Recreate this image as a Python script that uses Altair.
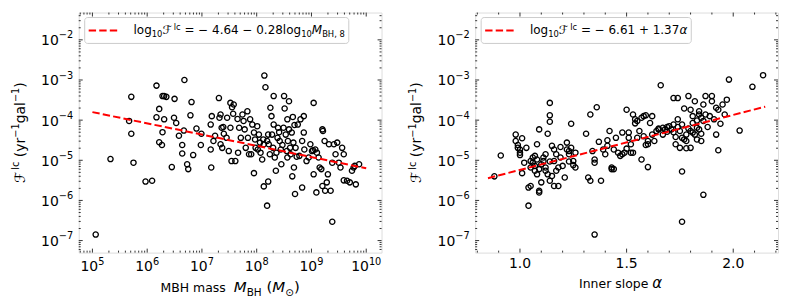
import altair as alt
import pandas as pd

# ---------------- data ----------------
# left panel: log10 MBH mass [Msun], log10 F_lc [yr^-1 gal^-1]
mass_log = [5.06,5.33,5.67,5.71,5.71,5.75,5.97,6.09,6.17,6.17,6.22,6.22,6.27,6.28,6.31,6.35,6.28,6.31,6.45,6.49,
            6.50,6.53,6.58,6.64,6.64,6.67,6.68,6.73,6.75,6.79,6.81,6.84,6.90,6.98,6.99,7.17,7.16,7.16,7.18,7.21,
            7.24,7.31,7.32,7.34,7.34,7.36,7.37,7.39,7.40,7.45,7.52,7.52,7.54,7.55,7.57,7.58,7.61,7.46,7.49,7.65,
            7.66,7.68,7.71,7.74,7.76,7.78,7.80,7.83,7.84,7.86,7.88,7.90,7.92,7.95,7.95,7.97,7.98,8.01,8.02,8.04,
            8.06,8.07,8.10,8.12,8.13,8.14,8.16,8.19,8.19,8.21,8.22,8.24,8.25,8.27,8.28,8.30,8.31,8.33,8.35,8.36,
            8.38,8.39,8.41,8.42,8.44,8.45,8.47,8.49,8.50,8.51,8.53,8.55,8.56,8.57,8.59,8.61,8.62,8.64,8.66,8.67,
            8.68,8.69,8.71,8.73,8.75,8.78,8.80,8.83,8.86,8.87,8.91,8.95,8.98,9.01,9.04,9.07,9.10,9.13,9.15,9.18,
            9.21,9.24,9.28,9.32,9.35,9.38,9.41,9.44,9.47,9.50,9.53,9.56,9.59,9.65,9.70,9.74,9.77,9.79,9.81,9.87,
            8.70,8.83,9.04,9.20,9.38,8.13,8.31,8.56,8.59,8.86,9.20,9.30,9.09,9.25,8.65,8.21,9.03,9.59]
mass_flc_log = [-6.85,-4.97,-4.02,-3.42,-4.34,-5.06,-5.53,-5.51,-3.14,-3.93,-3.72,-4.55,-4.62,-3.40,-3.40,-3.42,-4.30,-3.98,-5.17,-3.94,
                -3.47,-4.07,-4.39,-4.62,-4.83,-4.26,-3.00,-5.10,-5.22,-3.88,-3.55,-4.87,-4.21,-4.62,-4.34,-5.18,-4.11,-4.73,-3.90,-4.52,
                -4.39,-3.45,-3.94,-3.86,-4.60,-4.19,-4.69,-4.17,-4.34,-4.44,-3.57,-4.19,-5.02,-3.68,-3.84,-3.61,-5.02,-3.94,-4.77,-3.97,
                -4.81,-4.19,-4.44,-3.86,-4.02,-4.23,-4.69,-3.78,-4.44,-4.85,-3.98,-4.85,-4.11,-4.31,-5.32,-4.48,-4.69,-4.15,-4.73,-4.36,
                -4.56,-4.81,-4.98,-4.48,-4.60,-2.89,-3.18,-6.13,-4.52,-4.36,-4.60,-4.85,-3.69,-3.90,-4.36,-4.69,-4.11,-4.93,-5.26,-4.81,
                -4.44,-4.19,-4.30,-4.52,-4.73,-5.10,-4.62,-4.19,-3.40,-3.71,-4.36,-4.77,-4.93,-4.52,-4.23,-4.69,-4.85,-4.31,-3.92,-4.56,
                -5.18,-4.12,-4.69,-4.91,-4.11,-4.89,-3.98,-4.52,-4.31,-4.73,-5.02,-4.93,-4.60,-4.77,-3.57,-4.73,-4.81,-4.93,-5.18,-5.22,
                -4.27,-4.52,-5.55,-4.60,-5.76,-5.06,-4.60,-4.85,-4.56,-5.06,-5.18,-4.69,-4.85,-5.51,-5.55,-5.26,-5.18,-5.14,-5.60,-5.10,
                -5.84,-5.68,-5.35,-5.64,-6.53,-5.65,-3.40,-3.98,-3.53,-3.90,-4.23,-5.35,-5.80,-5.76,-5.40,-5.53,-4.75,-5.50]

# right panel: inner slope alpha, log10 F_lc
alpha_vals = [0.88,0.91,0.98,0.98,0.99,0.99,1.00,1.00,1.00,1.01,1.01,1.02,1.03,1.04,1.04,1.05,1.05,1.05,1.06,1.06,
              1.07,1.07,1.07,1.08,1.08,1.08,1.09,1.09,1.09,1.09,1.10,1.10,1.11,1.11,1.12,1.12,1.12,1.13,1.13,1.14,
              1.14,1.14,1.14,1.14,1.15,1.15,1.16,1.16,1.16,1.17,1.17,1.18,1.18,1.19,1.19,1.20,1.21,1.22,1.22,1.23,
              1.23,1.23,1.24,1.24,1.25,1.25,1.26,1.26,1.31,1.32,1.33,1.33,1.34,1.35,1.35,1.36,1.37,1.38,1.39,1.40,
              1.41,1.41,1.42,1.43,1.43,1.44,1.44,1.45,1.46,1.47,1.48,1.48,1.49,1.50,1.50,1.51,1.51,1.52,1.52,1.53,
              1.53,1.54,1.54,1.55,1.55,1.56,1.57,1.57,1.58,1.58,1.59,1.59,1.60,1.60,1.60,1.61,1.62,1.62,1.63,1.64,
              1.65,1.65,1.66,1.67,1.67,1.68,1.69,1.69,1.70,1.71,1.72,1.72,1.72,1.73,1.73,1.74,1.74,1.74,1.75,1.75,
              1.76,1.76,1.76,1.77,1.77,1.78,1.78,1.78,1.79,1.79,1.80,1.80,1.80,1.81,1.81,1.81,1.82,1.82,1.83,1.83,
              1.83,1.84,1.84,1.84,1.85,1.85,1.85,1.86,1.86,1.87,1.87,1.88,1.89,1.90,1.90,1.91,1.92,1.92,1.93,1.93,
              1.94,1.95,1.96,1.97,1.98,2.03,2.09,2.14,1.76,1.86,1.35]
alpha_flc_log = [-5.40,-4.88,-4.36,-4.52,-4.62,-4.69,-4.81,-4.73,-4.87,-4.45,-5.32,-5.06,-4.69,-6.13,-5.68,-5.02,-5.64,-5.18,-4.93,-5.06,
                 -5.26,-5.14,-4.89,-4.60,-5.35,-4.98,-5.76,-5.80,-4.23,-5.22,-5.10,-5.55,-5.02,-4.93,-5.26,-5.18,-4.85,-5.35,-4.34,-5.51,
                 -3.57,-3.88,-4.04,-5.03,-4.64,-5.39,-5.02,-4.73,-5.64,-4.85,-5.26,-5.18,-5.64,-4.67,-4.93,-5.14,-5.43,-4.56,-4.73,-4.85,
                 -5.03,-4.77,-4.69,-4.09,-5.12,-5.02,-4.81,-5.18,-4.34,-5.43,-3.86,-5.51,-4.77,-5.06,-4.98,-3.68,-4.54,-5.51,-4.73,-4.85,
                 -4.50,-4.64,-4.27,-5.18,-5.22,-5.22,-4.73,-4.44,-4.81,-4.89,-4.31,-4.85,-4.81,-3.74,-4.71,-4.44,-4.31,-4.81,-4.60,-3.86,
                 -4.81,-3.98,-4.08,-4.02,-4.44,-4.27,-3.94,-4.98,-4.40,-3.90,-3.88,-4.62,-4.60,-4.52,-5.17,-4.07,-4.36,-3.90,-4.52,-4.27,
                 -4.23,-4.21,-3.13,-4.19,-4.36,-4.23,-4.29,-4.17,-4.15,-4.23,-3.45,-4.11,-4.30,-4.60,-4.42,-3.98,-4.17,-3.45,-4.69,-4.27,
                 -4.44,-5.28,-4.11,-4.48,-3.71,-4.70,-4.36,-4.52,-4.21,-3.40,-3.74,-4.69,-4.27,-3.90,-4.31,-4.07,-4.36,-3.53,-4.01,-4.19,
                 -4.48,-3.78,-3.86,-4.23,-3.94,-4.34,-4.52,-4.02,-3.61,-3.40,-3.86,-4.17,-3.90,-3.40,-3.53,-3.98,-3.69,-4.36,-4.75,-3.74,
                 -4.09,-3.61,-3.86,-3.49,-2.99,-4.26,-3.17,-2.88,-6.53,-5.86,-6.85]

# fits quoted in the legends
mass_fit = {"intercept": -4.64, "slope": -0.28, "pivot": 8.0}
alpha_fit = {"intercept": -6.61, "slope": 1.37}
mass_fit_range = [5.0, 10.0]      # log10 M
alpha_fit_range = [0.85, 2.15]

# tick values / labels
flc_ticks = [1e-7, 1e-6, 1e-5, 1e-4, 1e-3, 1e-2]
flc_label_exp = ["−7", "−6", "−5", "−4", "−3", "−2"]
mass_ticks = [1e5, 1e6, 1e7, 1e8, 1e9, 1e10]
mass_label_exp = ["5", "6", "7", "8", "9", "10"]
alpha_ticks = [1.0, 1.5, 2.0]
alpha_labels = ["1.0", "1.5", "2.0"]
alpha_minor = [0.8, 0.9, 1.1, 1.2, 1.3, 1.4, 1.6, 1.7, 1.8, 1.9, 2.1, 2.2]

# ---------------- styling ----------------
FONT = "DejaVu Sans"
W, H = 304, 241
TICK_FS = 14
SUP = 0.7
LEG_FS = 12
DASH = [7.4, 3.2]

CW = {' ': 0.318, '(': 0.390, ')': 0.390, ',': 0.318, '.': 0.318, '=': 0.838, '+': 0.838, '−': 0.838,
      'M': 0.863, 'B': 0.686, 'H': 0.752, 'I': 0.295, 'a': 0.613, 'c': 0.550, 'e': 0.615, 'g': 0.635,
      'i': 0.278, 'l': 0.278, 'm': 0.974, 'n': 0.634, 'o': 0.612, 'p': 0.635, 'r': 0.411, 's': 0.521,
      'y': 0.592, 'α': 0.659, '⊙': 0.838, 'ℱ': 0.95}

ONE = pd.DataFrame({"k": [0]})


def text_width(s, size):
    return sum(CW.get(c, 0.636) for c in s) * size


def part_size(kind, size):
    return size * SUP if kind in ("sub", "sup") else size


def seg_width(parts):
    return sum(text_width(t, part_size(k, s)) for t, k, s in parts)


def segments(parts, x0, y0, rotate=False):
    """Lay out rich-text pieces (text, kind, size) one after another."""
    layers = []
    pos = 0.0
    for t, kind, size in parts:
        fs = part_size(kind, size)
        shift = size * 0.22 if kind == "sub" else (-size * 0.4 if kind == "sup" else 0.0)
        style = "italic" if kind == "i" else "normal"
        lead = len(t) - len(t.lstrip(" "))
        pos += text_width(t[:lead], fs)
        body = t.strip(" ")
        if body:
            if rotate:
                enc = dict(x=alt.value(x0 + shift), y=alt.value(y0 - pos))
                ang = 270
            else:
                enc = dict(x=alt.value(x0 + pos), y=alt.value(y0 + shift))
                ang = 0
            layers.append(
                alt.Chart(ONE).mark_text(text=body, align="left", baseline="alphabetic", font=FONT,
                                         fontSize=fs, fontStyle=style, color="black", angle=ang)
                .encode(**enc)
            )
        pos += text_width(t[lead:], fs)
    return layers


def minor_log(lo, hi):
    out = []
    for k in range(-9, 12):
        for m in range(2, 10):
            v = m * 10.0 ** k
            if lo <= v <= hi:
                out.append(v)
    return out


Y_LO, Y_HI = 10 ** -7.3, 10 ** -1.32
yscale = alt.Scale(type="log", domain=[Y_LO, Y_HI], nice=False)
flc_minor = minor_log(Y_LO, Y_HI)


def rule(df, **enc):
    return alt.Chart(df).mark_rule(color="black", strokeWidth=0.8).encode(**enc)


def tick_layers(xscale, xmaj, xmin):
    out = []
    for vals, L in ((flc_ticks, 4), (flc_minor, 2)):
        df = pd.DataFrame({"v": vals})
        yy = alt.Y("v:Q", scale=yscale, axis=None)
        out.append(rule(df, y=yy, x=alt.value(0), x2=alt.value(L)))
        out.append(rule(df, y=yy, x=alt.value(W - L), x2=alt.value(W)))
    for vals, L in ((xmaj, 4), (xmin, 2)):
        df = pd.DataFrame({"v": vals})
        xx = alt.X("v:Q", scale=xscale, axis=None)
        out.append(rule(df, x=xx, y=alt.value(H - L), y2=alt.value(H)))
        out.append(rule(df, x=xx, y=alt.value(0), y2=alt.value(L)))
    return out


def y_label_layers():
    df = pd.DataFrame({"v": flc_ticks, "exp": flc_label_exp})
    ew = text_width(flc_label_exp[0], TICK_FS * SUP)
    yy = alt.Y("v:Q", scale=yscale, axis=None)
    base = alt.Chart(df).mark_text(text="10", align="right", baseline="middle", font=FONT,
                                   fontSize=TICK_FS, color="black", dy=1.5).encode(
        y=yy, x=alt.value(-5.5 - ew))
    exp = alt.Chart(df).mark_text(align="right", baseline="middle", font=FONT,
                                  fontSize=TICK_FS * SUP, color="black", dy=-4.5).encode(
        y=yy, x=alt.value(-5.5), text="exp:N")
    return [base, exp]


def mass_label_layers(xscale):
    out = []
    df = pd.DataFrame({"v": mass_ticks, "exp": mass_label_exp})
    df["n"] = df["exp"].str.len()
    bw = text_width("10", TICK_FS)
    for _, g in df.groupby("n"):
        ew = text_width(g["exp"].iloc[0], TICK_FS * SUP)
        tot = bw + ew
        xx = alt.X("v:Q", scale=xscale, axis=None)
        out.append(alt.Chart(g).mark_text(text="10", align="left", baseline="alphabetic", font=FONT,
                                          fontSize=TICK_FS, color="black", dx=-tot / 2).encode(
            x=xx, y=alt.value(H + 18)))
        out.append(alt.Chart(g).mark_text(align="left", baseline="alphabetic", font=FONT,
                                          fontSize=TICK_FS * SUP, color="black", dx=-tot / 2 + bw).encode(
            x=xx, y=alt.value(H + 12), text="exp:N"))
    return out


def alpha_label_layers(xscale):
    df = pd.DataFrame({"v": alpha_ticks, "lab": alpha_labels})
    return [alt.Chart(df).mark_text(align="center", baseline="alphabetic", font=FONT, fontSize=TICK_FS,
                                    color="black").encode(
        x=alt.X("v:Q", scale=xscale, axis=None), y=alt.value(H + 15), text="lab:N")]


Y_TITLE = [("ℱ", "n", 14), ("lc", "sup", 14), (" (yr", "n", 14), ("−1", "sup", 14), ("gal", "n", 14),
           ("−1", "sup", 14), (")", "n", 14)]


def panel(xvals, yvals, xscale, fit_x, fit_y, xmaj, xmin, xlabels, leg_parts, title_parts,
          title_cx, title_base):
    pts = pd.DataFrame({"x": xvals, "y": yvals})
    fit = pd.DataFrame({"x": fit_x, "y": fit_y})
    points = alt.Chart(pts).mark_point(shape="circle", filled=False, color="black", size=28,
                                       strokeWidth=1.3, opacity=1).encode(
        x=alt.X("x:Q", scale=xscale, axis=None),
        y=alt.Y("y:Q", scale=yscale, axis=None))
    line = alt.Chart(fit).mark_line(color="#ff0000", strokeDash=DASH, strokeWidth=2).encode(
        x=alt.X("x:Q", scale=xscale, axis=None), y=alt.Y("y:Q", scale=yscale, axis=None))
    tx0 = 55
    leg_w = seg_width(leg_parts)
    box = alt.Chart(ONE).mark_rect(fill="white", fillOpacity=0.8, stroke="#cccccc", strokeWidth=1,
                                   cornerRadius=3).encode(
        x=alt.value(6), x2=alt.value(tx0 + leg_w + 4), y=alt.value(5), y2=alt.value(31))
    sample = alt.Chart(ONE).mark_rule(color="#ff0000", strokeDash=DASH, strokeWidth=2).encode(
        x=alt.value(10), x2=alt.value(41), y=alt.value(18))
    leg_text = segments(leg_parts, tx0, 22)
    tw = seg_width(title_parts)
    title = segments(title_parts, title_cx - tw / 2, title_base)
    yw = seg_width(Y_TITLE)
    ytitle = segments(Y_TITLE, -54, H / 2 + yw / 2, rotate=True)
    layers = (tick_layers(xscale, xmaj, xmin) + [points, line, box, sample] + leg_text + title + ytitle
              + y_label_layers() + xlabels)
    return alt.layer(*layers).properties(width=W, height=H)


# left panel
mass_scale = alt.Scale(type="log", domain=[10 ** 4.75, 10 ** 10.28], nice=False)
mx = [10 ** v for v in mass_fit_range]
my = [10 ** (mass_fit["intercept"] + mass_fit["slope"] * (v - mass_fit["pivot"])) for v in mass_fit_range]
left = panel([10 ** v for v in mass_log], [10 ** v for v in mass_flc_log], mass_scale, mx, my,
             mass_ticks, minor_log(10 ** 4.75, 10 ** 10.28), mass_label_layers(mass_scale),
             [("log", "n", LEG_FS), ("10", "sub", LEG_FS), ("ℱ", "n", LEG_FS), ("lc", "sup", LEG_FS),
              (" = − 4.64 − 0.28log", "n", LEG_FS), ("10", "sub", LEG_FS), ("M", "i", LEG_FS),
              ("BH, 8", "sub", LEG_FS)],
             [("MBH mass  ", "n", 12.5), ("M", "i", 15), ("BH", "sub", 15), (" (", "n", 15),
              ("M", "i", 15), ("⊙", "sub", 15), (")", "n", 15)],
             W / 2, H + 40)

# right panel
alpha_scale = alt.Scale(type="linear", domain=[0.79, 2.21], nice=False, zero=False)
ay = [10 ** (alpha_fit["intercept"] + alpha_fit["slope"] * a) for a in alpha_fit_range]
right = panel(alpha_vals, [10 ** v for v in alpha_flc_log], alpha_scale, alpha_fit_range, ay,
              alpha_ticks, alpha_minor, alpha_label_layers(alpha_scale),
              [("log", "n", LEG_FS), ("10", "sub", LEG_FS), ("ℱ", "n", LEG_FS), ("lc", "sup", LEG_FS),
               (" = − 6.61 + 1.37", "n", LEG_FS), ("α", "i", LEG_FS)],
              [("Inner slope ", "n", 12.5), ("α", "i", 15)],
              W / 2 - 6, H + 36)

chart = alt.hconcat(left, right, spacing=24).properties(
    padding={"left": 2, "top": 3, "right": 2, "bottom": 2}
).configure_view(stroke="black", strokeWidth=1).configure(background="white")

chart.save("out.html", embed_options={"renderer": "svg", "actions": False})
